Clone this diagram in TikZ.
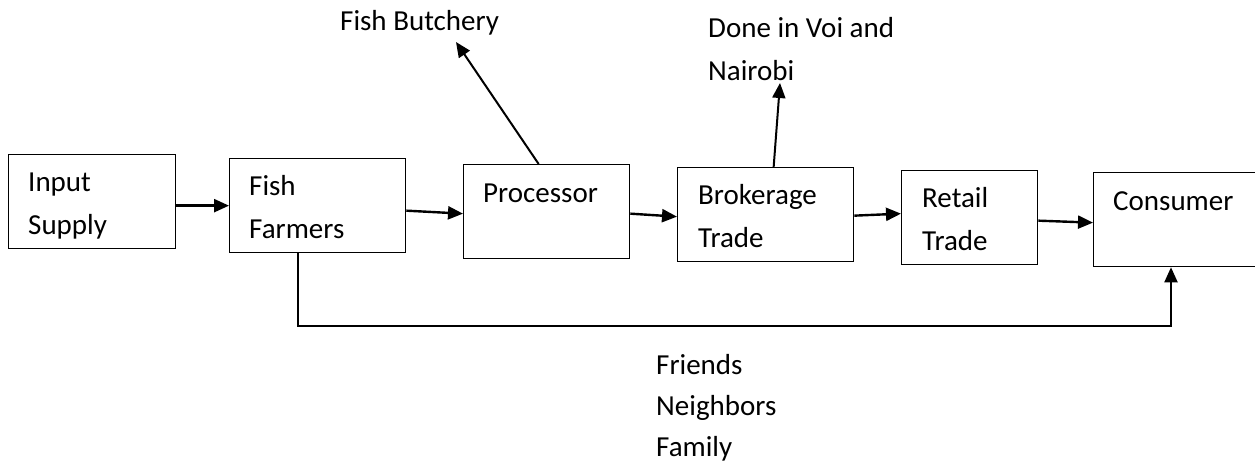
\documentclass[tikz,border=0pt]{standalone}
\usepackage{fontspec}
\setmainfont{Carlito}
\usepackage{tikz}
\usetikzlibrary{arrows.meta}

\begin{document}
\begin{tikzpicture}[x=1pt, y=-1pt,
    box/.style={draw, line width=1.3pt, anchor=north west, minimum height=94pt, inner sep=0pt},
    lbl/.style={anchor=base west, inner sep=0pt, align=left, font=\fontsize{29}{43}\selectfont},
    flow/.style={line width=2.4pt, -{Triangle[length=15pt, width=13pt]}}]
  \useasboundingbox (0,0) rectangle (1255,464);

  % Chain Boxes
  \node[box, minimum width=167pt] (supply) at (8,154) {};
  \node[box, minimum width=176pt] (farmers) at (229,158) {};
  \node[box, minimum width=166pt] (processor) at (463,164) {};
  \node[box, minimum width=176pt] (broker) at (677,167) {};
  \node[box, minimum width=136pt] (retail) at (901,170) {};
  \node[box, minimum width=180pt] (consumer) at (1093,172) {};

  % Box Labels (base anchor sits on the last line)
  \node[lbl] (supplytxt) at ([shift={(20,80)}]supply.north west) {Input\\Supply};
  \node[lbl] (farmerstxt) at ([shift={(20,80)}]farmers.north west) {Fish\\Farmers};
  \node[lbl] (processortxt) at ([shift={(20,38)}]processor.north west) {Processor};
  \node[lbl] (brokertxt) at ([shift={(21,80)}]broker.north west) {Brokerage\\Trade};
  \node[lbl] (retailtxt) at ([shift={(21,80)}]retail.north west) {Retail\\Trade};
  \node[lbl] (consumertxt) at ([shift={(20,38)}]consumer.north west) {Consumer};

  % Main Flow
  \draw[flow] ([yshift=-4pt]supply.east) -- (farmers.west);
  \draw[flow] ([yshift=-5pt]farmers.east) -- ([yshift=-2pt]processor.west);
  \draw[flow] ([yshift=-2pt]processor.east) -- ([yshift=-2pt]broker.west);
  \draw[flow] ([yshift=-1pt]broker.east) -- ([yshift=4pt]retail.west);
  \draw[flow] ([yshift=-3pt]retail.east) -- ([yshift=-3pt]consumer.west);

  % Side Outlets
  \coordinate (butchery) at (456,42);
  \coordinate (voi) at (780,83);
  \node[lbl] (butcherytxt) at (340,30) {Fish Butchery};
  \node[lbl] (voitxt) at (708,80) {Done in Voi and\\Nairobi};
  \draw[flow, line width=2pt] ([xshift=-8pt]processor.north) -- (butchery);
  \draw[flow, line width=2pt] ([xshift=8pt]broker.north) -- (voi);

  % Direct Sales
  \coordinate (direct) at ([xshift=-20pt, yshift=-73pt]farmers.south);
  \draw[flow, line width=2pt] ([xshift=-20pt]farmers.south) -- (direct)
    -| ([xshift=78pt]consumer.south west);
  \node[lbl, font=\fontsize{29}{41}\selectfont] (directtxt) at (656,456) {Friends\\Neighbors\\Family};
\end{tikzpicture}
\end{document}
